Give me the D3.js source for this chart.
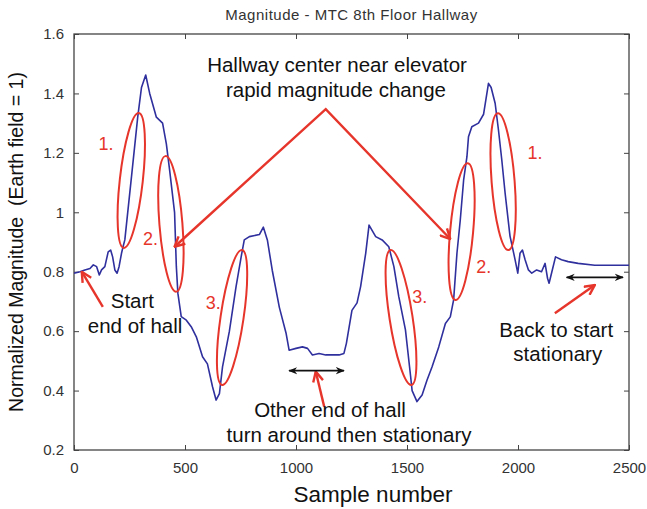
<!DOCTYPE html>
<html>
<head>
<meta charset="utf-8">
<script src="https://cdn.jsdelivr.net/npm/d3@7"></script>
<style>
  body { margin: 0; background: white; }
  text { font-family: "Liberation Sans", Arial, sans-serif; }
</style>
</head>
<body>
<div id="container"></div>
<script>
/* CONSTANTS AND GLOBALS */
const width = 647,
    height = 509,
    margin = { top: 34, right: 16, bottom: 59, left: 74 }

// DATA ==================================================
const sampleNo = [0, 27, 49, 72, 87, 102, 114, 124, 139, 154, 165, 174, 184, 194, 203, 214, 221, 229,
    259, 287, 304, 323, 341, 371, 399, 416, 431, 453, 461, 468, 483, 506, 528, 551, 579, 601, 624, 640,
    655, 669, 700, 730, 753, 767, 790, 835, 853, 871, 893, 925, 955, 969, 1000, 1029, 1052, 1074, 1104,
    1134, 1164, 1194, 1216, 1227, 1252, 1275, 1291, 1314, 1329, 1359, 1388, 1418, 1441, 1463, 1493,
    1516, 1523, 1545, 1568, 1590, 1613, 1643, 1673, 1695, 1710, 1725, 1740, 1755, 1770, 1777, 1792,
    1822, 1845, 1867, 1879, 1897, 1912, 1927, 1942, 1964, 1987, 1999, 2009, 2020, 2032, 2047, 2062,
    2084, 2106, 2122, 2133, 2140, 2151, 2169, 2196, 2226, 2271, 2346, 2421, 2500]
const magnitude = [0.795, 0.80, 0.806, 0.811, 0.823, 0.817, 0.789, 0.806, 0.817, 0.867, 0.873, 0.85, 0.806, 0.795, 0.817, 0.862, 0.884, 0.907,
    1.12, 1.32, 1.42, 1.462, 1.40, 1.32, 1.30, 1.23, 1.14, 1.00, 0.817, 0.727, 0.649, 0.637, 0.615, 0.581, 0.514, 0.49, 0.413, 0.368,
    0.39, 0.48, 0.60, 0.75, 0.85, 0.907, 0.918, 0.925, 0.95, 0.907, 0.805, 0.68, 0.594, 0.536, 0.542, 0.547, 0.542, 0.52, 0.525,
    0.52, 0.52, 0.52, 0.525, 0.559, 0.67, 0.695, 0.75, 0.862, 0.957, 0.918, 0.907, 0.884, 0.817, 0.716, 0.604,
    0.45, 0.40, 0.363, 0.385, 0.435, 0.48, 0.547, 0.626, 0.648, 0.705, 0.862, 0.974, 1.108, 1.187, 1.254, 1.288,
    1.30, 1.33, 1.434, 1.42, 1.367, 1.277, 1.176, 1.064, 0.92, 0.84, 0.795, 0.862, 0.873, 0.84, 0.806, 0.795,
    0.806, 0.80, 0.828, 0.778, 0.761, 0.795, 0.850, 0.84, 0.834, 0.828, 0.822, 0.822, 0.822]

const xTicks = [0, 500, 1000, 1500, 2000, 2500]
const yTicks = [0.2, 0.4, 0.6, 0.8, 1, 1.2, 1.4, 1.6]

// annotations, in data units [sample, magnitude]
const noteLines = [
    { text: "Hallway center near elevator", at: [1185, 1.473] },
    { text: "rapid magnitude change", at: [1180, 1.387] },
    { text: "Start", at: [263, 0.677] },
    { text: "end of hall", at: [275, 0.593] },
    { text: "Other end of hall", at: [1153, 0.310] },
    { text: "turn around then stationary", at: [1239, 0.228] },
    { text: "Back to start", at: [2172, 0.579] },
    { text: "stationary", at: [2179, 0.500] }
]
const stepLabels = [
    { text: "1.", at: [144, 1.210] }, { text: "2.", at: [345, 0.890] }, { text: "3.", at: [627, 0.673] },
    { text: "3.", at: [1557, 0.696] }, { text: "2.", at: [1846, 0.795] }, { text: "1.", at: [2077, 1.178] }
]
const ellipseTop = [[292, 1.334], [412, 1.189], [757, 0.873], [1426, 0.873], [1774, 1.165], [1909, 1.333]]
const ellipseBottom = [[224, 0.880], [461, 0.733], [667, 0.419], [1520, 0.419], [1718, 0.705], [1957, 0.873]]
const vPoints = [[453, 0.884], [1134, 1.347], [1695, 0.910]]
const redArrows = [
    [[130, 0.682], [35, 0.800]],
    [[1127, 0.346], [1089, 0.464]],
    [[2166, 0.660], [2346, 0.755]]
]
const spanArrows = [
    [[969, 0.467], [1216, 0.467]],
    [[2219, 0.781], [2473, 0.781]]
]

const red = "#e6352b"

//SCALE
const xScale = d3.scaleLinear()
    .domain([0, 2500])
    .range([margin.left, width - margin.right - 2])

const yScale = d3.scaleLinear()
    .domain([0.2, 1.6])
    .range([height - margin.bottom, margin.top])

//SVG
const svg = d3.select("#container")
    .append("svg")
    .attr("width", width)
    .attr("height", height)
    .style("background-color", "white")

const defs = svg.append("defs")
defs.append("marker")
    .attr("id", "redhead")
    .attr("markerUnits", "userSpaceOnUse")
    .attr("viewBox", "0 0 12 12")
    .attr("refX", 11).attr("refY", 6)
    .attr("markerWidth", 12).attr("markerHeight", 12)
    .attr("orient", "auto-start-reverse")
    .append("path")
    .attr("d", "M1,1 L11,6 L1,11")
    .attr("fill", "none")
    .attr("stroke", red)
    .attr("stroke-width", 2.4)
defs.append("marker")
    .attr("id", "blackhead")
    .attr("markerUnits", "userSpaceOnUse")
    .attr("viewBox", "0 0 10 10")
    .attr("refX", 9).attr("refY", 5)
    .attr("markerWidth", 9).attr("markerHeight", 9)
    .attr("orient", "auto-start-reverse")
    .append("path")
    .attr("d", "M0,1 L10,5 L0,9 L3,5 z")
    .attr("fill", "#111")

// AXES
const xAxis = d3.axisBottom(xScale).tickValues(xTicks).tickSize(-5).tickPadding(12)
    .tickFormat(d3.format("d"))
const yAxis = d3.axisLeft(yScale).tickValues(yTicks).tickSize(-5).tickPadding(10)
    .tickFormat(d => d3.format("~g")(d))

svg.append("g")
    .attr("class", "axis")
    .attr("transform", "translate(0," + (height - margin.bottom) + ")")
    .call(xAxis)
svg.append("g")
    .attr("transform", "translate(0," + margin.top + ")")
    .call(d3.axisTop(xScale).tickValues(xTicks).tickSize(-5).tickFormat(""))
svg.append("g")
    .attr("class", "axis")
    .attr("transform", "translate(" + margin.left + ",0)")
    .call(yAxis)
svg.append("g")
    .attr("transform", "translate(" + xScale(2500) + ",0)")
    .call(d3.axisRight(yScale).tickValues(yTicks).tickSize(-5).tickFormat(""))

svg.selectAll(".domain").remove()
svg.selectAll(".tick line").attr("stroke", "#444")
svg.selectAll(".tick text")
    .attr("fill", "#333")
    .style("font-size", "15px")

svg.append("rect")
    .attr("x", xScale(0))
    .attr("y", yScale(1.6))
    .attr("width", xScale(2500) - xScale(0))
    .attr("height", yScale(0.2) - yScale(1.6))
    .attr("fill", "none")
    .attr("stroke", "#444")
    .attr("stroke-width", 1.3)

// LINE
const line = d3.line()
    .x(d => xScale(d[0]))
    .y(d => yScale(d[1]))

svg.append("path")
    .datum(d3.zip(sampleNo, magnitude))
    .attr("d", line)
    .attr("fill", "none")
    .attr("stroke", "#2f2f9e")
    .attr("stroke-width", 1.6)
    .attr("stroke-linejoin", "round")

// ANNOTATIONS
svg.selectAll(".ring")
    .data(d3.zip(ellipseTop, ellipseBottom))
    .join("ellipse")
    .attr("class", "ring")
    .each(function ([t, b]) {
        const x1 = xScale(t[0]), y1 = yScale(t[1]), x2 = xScale(b[0]), y2 = yScale(b[1])
        const cx = (x1 + x2) / 2, cy = (y1 + y2) / 2
        const ang = Math.atan2(y2 - y1, x2 - x1) * 180 / Math.PI
        d3.select(this)
            .attr("cx", 0).attr("cy", 0)
            .attr("rx", Math.hypot(x2 - x1, y2 - y1) / 2)
            .attr("ry", 11.5)
            .attr("transform", "translate(" + cx + "," + cy + ") rotate(" + ang + ")")
    })
    .attr("fill", "none")
    .attr("stroke", red)
    .attr("stroke-width", 2)

svg.append("path")
    .datum(vPoints)
    .attr("d", line)
    .attr("fill", "none")
    .attr("stroke", red)
    .attr("stroke-width", 2.4)
    .attr("marker-start", "url(#redhead)")
    .attr("marker-end", "url(#redhead)")

svg.selectAll(".redarrow")
    .data(redArrows)
    .join("path")
    .attr("class", "redarrow")
    .attr("d", line)
    .attr("stroke", red)
    .attr("stroke-width", 2.4)
    .attr("marker-end", "url(#redhead)")

svg.selectAll(".span")
    .data(spanArrows)
    .join("path")
    .attr("class", "span")
    .attr("d", line)
    .attr("stroke", "#111")
    .attr("stroke-width", 1.6)
    .attr("marker-start", "url(#blackhead)")
    .attr("marker-end", "url(#blackhead)")

svg.selectAll(".note")
    .data(noteLines)
    .join("text")
    .attr("class", "note")
    .attr("x", d => xScale(d.at[0]))
    .attr("y", d => yScale(d.at[1]))
    .attr("text-anchor", "middle")
    .attr("fill", "#111")
    .style("font-size", "20.5px")
    .text(d => d.text)

svg.selectAll(".step")
    .data(stepLabels)
    .join("text")
    .attr("class", "step")
    .attr("x", d => xScale(d.at[0]))
    .attr("y", d => yScale(d.at[1]))
    .attr("text-anchor", "middle")
    .attr("fill", red)
    .style("font-size", "18px")
    .text(d => d.text)

// LABELS
svg.append("text")
    .attr("x", (xScale(0) + xScale(2500)) / 2)
    .attr("y", 20)
    .attr("text-anchor", "middle")
    .attr("fill", "#333")
    .style("font-size", "15px")
    .style("letter-spacing", "0.5px")
    .text("Magnitude - MTC 8th Floor Hallway")

svg.append("text")
    .attr("x", 373)
    .attr("y", 502)
    .attr("text-anchor", "middle")
    .attr("fill", "#111")
    .style("font-size", "22.5px")
    .text("Sample number")

svg.append("text")
    .attr("transform", "rotate(-90)")
    .attr("x", -(yScale(0.2) + yScale(1.6)) / 2)
    .attr("y", 23)
    .attr("text-anchor", "middle")
    .attr("fill", "#111")
    .style("font-size", "19.5px")
    .style("white-space", "pre")
    .text("Normalized Magnitude  (Earth field = 1)")
</script>
</body>
</html>
